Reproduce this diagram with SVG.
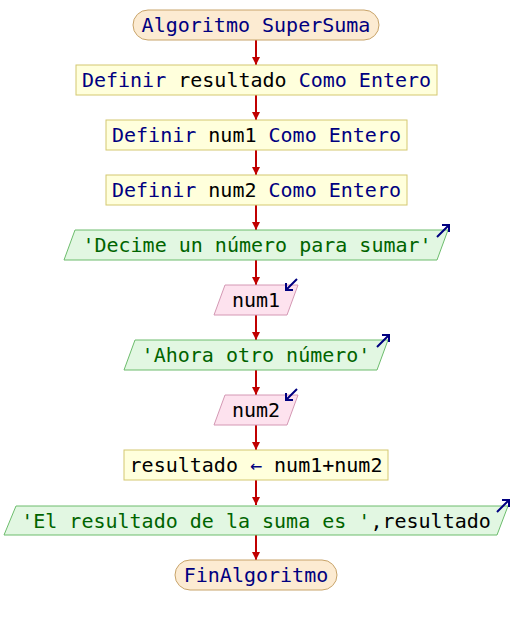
<svg xmlns="http://www.w3.org/2000/svg" width="512" height="625" viewBox="0 0 512 625">
<defs>
<style>
.t{font-family:"DejaVu Sans Mono","Liberation Mono",monospace;font-size:20px;text-anchor:middle}
.kw{fill:#000080}.id{fill:#000000}.st{fill:#006400}
.term{fill:#fcebd2;stroke:#c8a46a;stroke-width:1}
.proc{fill:#ffffdc;stroke:#d4c870;stroke-width:1}
.out{fill:#e2f7e2;stroke:#6cbc6c;stroke-width:1}
.in{fill:#fde2ee;stroke:#d498b4;stroke-width:1}
.io{fill:none;stroke:#000080;stroke-width:2}
.c{stroke:#c00000;stroke-width:2;fill:none}
</style>
<marker id="ah" viewBox="0 0 10 10" refX="10" refY="5" markerWidth="8" markerHeight="8" markerUnits="userSpaceOnUse" orient="auto">
<path d="M0,0 L10,5 L0,10 z" fill="#c00000"/>
</marker>
</defs>
<g id="connectors">
<line class="c" x1="256" y1="40" x2="256" y2="65" marker-end="url(#ah)"/>
<line class="c" x1="256" y1="95" x2="256" y2="120" marker-end="url(#ah)"/>
<line class="c" x1="256" y1="150" x2="256" y2="175" marker-end="url(#ah)"/>
<line class="c" x1="256" y1="205" x2="256" y2="230" marker-end="url(#ah)"/>
<line class="c" x1="256" y1="260" x2="256" y2="285" marker-end="url(#ah)"/>
<line class="c" x1="256" y1="315" x2="256" y2="340" marker-end="url(#ah)"/>
<line class="c" x1="256" y1="370" x2="256" y2="395" marker-end="url(#ah)"/>
<line class="c" x1="256" y1="425" x2="256" y2="450" marker-end="url(#ah)"/>
<line class="c" x1="256" y1="480" x2="256" y2="505" marker-end="url(#ah)"/>
<line class="c" x1="256" y1="535" x2="256" y2="560" marker-end="url(#ah)"/>
</g>
<g id="n1">
<rect class="term" x="133" y="10" width="246" height="30" rx="15"/>
<text class="t kw" x="256" y="32">Algoritmo SuperSuma</text>
</g>
<g id="n2">
<rect class="proc" x="76" y="65" width="361" height="30"/>
<text class="t" x="256.5" y="87"><tspan class="kw">Definir </tspan><tspan class="id">resultado</tspan><tspan class="kw"> Como Entero</tspan></text>
</g>
<g id="n3">
<rect class="proc" x="106" y="120" width="301" height="30"/>
<text class="t" x="256.5" y="142"><tspan class="kw">Definir </tspan><tspan class="id">num1</tspan><tspan class="kw"> Como Entero</tspan></text>
</g>
<g id="n4">
<rect class="proc" x="106" y="175" width="301" height="30"/>
<text class="t" x="256.5" y="197"><tspan class="kw">Definir </tspan><tspan class="id">num2</tspan><tspan class="kw"> Como Entero</tspan></text>
</g>
<g id="n5">
<polygon class="out" points="75,230 448,230 437,260 64,260"/>
<text class="t st" x="257" y="252">'Decime un número para sumar'</text>
<path class="io" d="M437,237 L449,225 M442,225 L449,225 L449,232"/>
</g>
<g id="n6">
<polygon class="in" points="225,285 298,285 287,315 214,315"/>
<text class="t id" x="256" y="307">num1</text>
<path class="io" d="M297,279 L286,290 M286,283 L286,290 L293,290"/>
</g>
<g id="n7">
<polygon class="out" points="135,340 388,340 377,370 124,370"/>
<text class="t st" x="256" y="362">'Ahora otro número'</text>
<path class="io" d="M377,347 L389,335 M382,335 L389,335 L389,342"/>
</g>
<g id="n8">
<polygon class="in" points="225,395 298,395 287,425 214,425"/>
<text class="t id" x="256" y="417">num2</text>
<path class="io" d="M297,389 L286,400 M286,393 L286,400 L293,400"/>
</g>
<g id="n9">
<rect class="proc" x="124" y="450" width="264" height="30"/>
<text class="t" x="256" y="472"><tspan class="id">resultado </tspan><tspan class="kw">←</tspan><tspan class="id"> num1+num2</tspan></text>
</g>
<g id="n10">
<polygon class="out" points="16,506 508,506 497,535 4,535"/>
<text class="t" x="256" y="528"><tspan class="st">'El resultado de la suma es '</tspan><tspan class="id">,resultado</tspan></text>
<path class="io" d="M497,512 L509,500 M502,500 L509,500 L509,507"/>
</g>
<g id="n11">
<rect class="term" x="175" y="560" width="162" height="30" rx="15"/>
<text class="t kw" x="256" y="582">FinAlgoritmo</text>
</g>
</svg>
